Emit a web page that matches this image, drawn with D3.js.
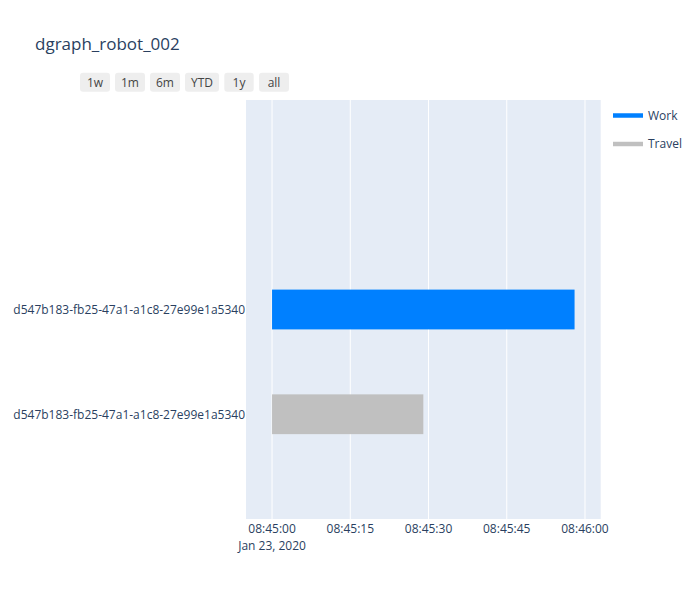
<!DOCTYPE html>
<html>
<head>
<meta charset="utf-8">
<script src="https://cdn.jsdelivr.net/npm/d3@7"></script>
<style>
  html, body { margin: 0; padding: 0; background: #fff; }
  svg { display: block; font-family: "Open Sans", "Noto Sans", sans-serif; }
</style>
</head>
<body>
<svg id="chart" width="700" height="600"></svg>
<script>
// ---- data ----
const titleText = "dgraph_robot_002";
const taskLabels = ["d547b183-fb25-47a1-a1c8-27e99e1a5340", "d547b183-fb25-47a1-a1c8-27e99e1a5340"];
const taskTypes = ["Travel", "Work"];
const taskStarts = ["2020-01-23 08:45:00.0", "2020-01-23 08:45:00.0"];
const taskEnds = ["2020-01-23 08:45:29.7", "2020-01-23 08:45:58.0"];
const legendOrder = ["Work", "Travel"];
const typeColors = { Work: "#0080ff", Travel: "#c0c0c0" };
const xRange = ["2020-01-23 08:44:55.07", "2020-01-23 08:46:03.11"];
const xTicks = ["2020-01-23 08:45:00.0", "2020-01-23 08:45:15.0", "2020-01-23 08:45:30.0", "2020-01-23 08:45:45.0", "2020-01-23 08:46:00.0"];
const xDateLabel = "Jan 23, 2020";
const yRange = [-1, 3];
const buttonLabels = ["1w", "1m", "6m", "YTD", "1y", "all"];

// ---- layout ----
const parse = d3.utcParse("%Y-%m-%d %H:%M:%S.%L");
const plot = { left: 246, right: 600.7, top: 100, bottom: 519 };
const svg = d3.select("#chart");
const textColor = "#2a3f5f";

const x = d3.scaleUtc().domain(xRange.map(parse)).range([plot.left, plot.right]);
const y = d3.scaleLinear().domain(yRange).range([plot.bottom, plot.top]);
const barW = 0.38;

// background
svg.append("rect").attr("x", plot.left).attr("y", plot.top)
  .attr("width", plot.right - plot.left).attr("height", plot.bottom - plot.top)
  .attr("fill", "#e5ecf6");

// title
svg.append("text").attr("x", 35).attr("y", 50).attr("font-size", 17)
  .attr("fill", textColor).text(titleText);

// range selector buttons
const btnPos = [[80,110],[115,145],[150,180],[185,219],[224.3,253.7],[259,289]];
const btns = svg.append("g");
buttonLabels.forEach((b, i) => {
  const [x0, x1] = btnPos[i];
  btns.append("rect").attr("x", x0).attr("y", 72.7).attr("width", x1 - x0).attr("height", 19)
    .attr("rx", 3).attr("fill", "#eeeeee");
  btns.append("text").attr("x", (x0 + x1) / 2).attr("y", 86.5).attr("text-anchor", "middle")
    .attr("font-size", 12).attr("fill", "#444").text(b);
});

// x grid + ticks
const tickDates = xTicks.map(parse);
const fmt = d3.utcFormat("%H:%M:%S");
const gx = svg.append("g");
tickDates.forEach((t, i) => {
  gx.append("line").attr("x1", x(t)).attr("x2", x(t)).attr("y1", plot.top).attr("y2", plot.bottom)
    .attr("stroke", "#fff").attr("stroke-width", 1);
  gx.append("text").attr("x", x(t)).attr("y", 533).attr("text-anchor", "middle")
    .attr("font-size", 12).attr("fill", textColor).text(fmt(t));
  if (i === 0) {
    gx.append("text").attr("x", x(t)).attr("y", 549.5).attr("text-anchor", "middle")
      .attr("font-size", 12).attr("fill", textColor).text(xDateLabel);
  }
});

// bars
taskLabels.forEach((lab, i) => {
  const s = parse(taskStarts[i]), e = parse(taskEnds[i]);
  svg.append("rect").attr("x", x(s)).attr("width", x(e) - x(s))
    .attr("y", y(i + barW / 2)).attr("height", y(i - barW / 2) - y(i + barW / 2))
    .attr("fill", typeColors[taskTypes[i]]);
  svg.append("text").attr("x", 245).attr("y", y(i) + 4.3).attr("text-anchor", "end")
    .attr("font-size", 12).attr("fill", textColor).text(lab);
});

// legend
const legY = [115.5, 144];
legendOrder.forEach((name, i) => {
  svg.append("line").attr("x1", 613).attr("x2", 643).attr("y1", legY[i]).attr("y2", legY[i])
    .attr("stroke", typeColors[name]).attr("stroke-width", 4.5);
  svg.append("text").attr("x", 648).attr("y", legY[i] + 4.3).attr("font-size", 12)
    .attr("fill", textColor).text(name);
});
</script>
</body>
</html>
